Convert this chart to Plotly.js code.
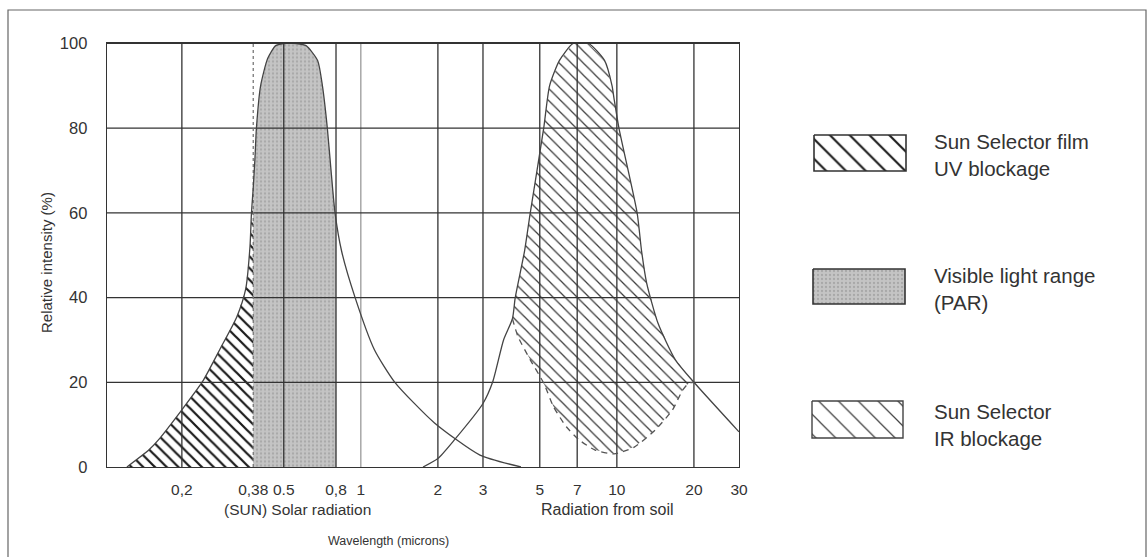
<!DOCTYPE html>
<html><head><meta charset="utf-8">
<script src="https://cdn.plot.ly/plotly-3.0.1.min.js"></script>
<style>html,body{margin:0;padding:0;background:#fff}</style>
</head><body>
<div id="chart" style="width:1148px;height:557px"></div>
<script>
// ---- tick values / labels ----
const xTickVals = [0.2, 0.38, 0.5, 0.8, 1, 2, 3, 5, 7, 10, 20, 30];
const xTickText = ['0,2', '0,38', '0.5', '0,8', '1', '2', '3', '5', '7', '10', '20', '30'];
const yTickVals = [0, 20, 40, 60, 80, 100];
const yGridVals = [20, 40, 60, 80];

// ---- solar radiation curve (wavelength in microns, relative intensity %) ----
const solarX = [0.122, 0.1485, 0.162, 0.2, 0.241, 0.281, 0.328, 0.355, 0.369, 0.374, 0.38, 0.386, 0.391, 0.406, 0.433, 0.465, 0.50, 0.56, 0.611, 0.678, 0.708, 0.740, 0.765, 0.793, 0.841, 0.95, 1.13, 1.358, 1.94, 2.92, 4.22];
const solarY = [0, 4, 6.4, 13.5, 20.2, 27.7, 35.5, 42, 52, 60, 66, 73, 80, 90, 96.5, 99.5, 100, 100, 99.5, 96, 90, 80, 70, 60, 51, 40, 27.7, 20, 10.4, 2.8, 0];

// ---- radiation from soil curve ----
const soilX = [1.75, 2.0, 2.32, 3.0, 3.27, 3.61, 3.91, 4.01, 4.36, 4.59, 5.18, 5.46, 5.97, 6.75, 7.75, 8.95, 9.58, 9.75, 10.19, 12.0, 12.49, 13.07, 14.47, 16.93, 20, 30];
const soilY = [0, 2, 6.4, 15, 20, 30, 35, 40, 51, 60, 80, 90, 96, 100, 100, 96, 90, 87, 80, 60, 51, 43.5, 34, 25.3, 20, 8.3];

// ---- lower (dashed) boundary of IR blockage ----
const irLowX = [3.91, 4.11, 4.59, 5.18, 5.66, 6.35, 7.12, 8.23, 9.75, 11.7, 14.1, 16.5, 18.1, 19.1, 20];
const irLowY = [35, 30.8, 25.3, 19.8, 14.2, 9.5, 6.4, 4.0, 3.1, 4.7, 8.7, 13.5, 18.2, 19.8, 20];

// ---- band limits ----
const uvEdge = 0.38;
const parEdge = 0.8;
const xMin = 0.102, xMax = 30, yMin = 0, yMax = 100;

// ---- legend labels ----
const legendLabels = ['Sun Selector film<br>UV blockage', 'Visible light range<br>(PAR)', 'Sun Selector<br>IR blockage'];

function yAt(xs, ys, x) {
  for (let i = 0; i < xs.length - 1; i++) {
    if (x >= xs[i] && x <= xs[i + 1]) {
      const t = (Math.log10(x) - Math.log10(xs[i])) / (Math.log10(xs[i + 1]) - Math.log10(xs[i]));
      return ys[i] + t * (ys[i + 1] - ys[i]);
    }
  }
  return 0;
}

// UV polygon
const uvX = [], uvY = [];
solarX.forEach((x, i) => { if (x < uvEdge) { uvX.push(x); uvY.push(solarY[i]); } });
uvX.push(uvEdge, uvEdge); uvY.push(yAt(solarX, solarY, uvEdge), 0);

// PAR polygon
const parX = [uvEdge, uvEdge], parY = [0, yAt(solarX, solarY, uvEdge)];
solarX.forEach((x, i) => { if (x > uvEdge && x < parEdge) { parX.push(x); parY.push(solarY[i]); } });
parX.push(parEdge, parEdge); parY.push(yAt(solarX, solarY, parEdge), 0);

// IR polygon
const irX = [], irY = [];
const irA = irLowX[0], irB = irLowX[irLowX.length - 1];
soilX.forEach((x, i) => { if (x >= irA && x <= irB) { irX.push(x); irY.push(soilY[i]); } });
for (let i = irLowX.length - 1; i >= 0; i--) { irX.push(irLowX[i]); irY.push(irLowY[i]); }

// grid lines
const vgX = [], vgY = [], vgLX = [], vgLY = [];
xTickVals.forEach(v => {
  if (v === uvEdge || v === xMax) return;
  if (v === 1) { vgLX.push(v, v, null); vgLY.push(yMin, yMax, null); }
  else { vgX.push(v, v, null); vgY.push(yMin, yMax, null); }
});
const hgX = [], hgY = [];
yGridVals.forEach(v => { hgX.push(xMin, xMax, null); hgY.push(v, v, null); });

const traces = [
  { x: parX, y: parY, mode: 'lines', fill: 'toself', line: { width: 0 },
    fillcolor: '#c0c0c0',
    fillpattern: { shape: '.', bgcolor: '#c4c4c4', fgcolor: '#a8a8a8', size: 4, solidity: 0.25 } },
  { x: uvX, y: uvY, mode: 'lines', fill: 'toself', line: { width: 0 },
    fillpattern: { shape: '\\', bgcolor: 'rgba(0,0,0,0)', fgcolor: '#1a1a1a', size: 8.3, solidity: 0.27 } },
  { x: irX, y: irY, mode: 'lines', fill: 'toself', line: { width: 0 },
    fillpattern: { shape: '\\', bgcolor: 'rgba(0,0,0,0)', fgcolor: '#3a3a3a', size: 8.5, solidity: 0.15 } },
  { x: vgX, y: vgY, mode: 'lines', line: { color: '#333', width: 1.3 } },
  { x: vgLX, y: vgLY, mode: 'lines', line: { color: '#9a9a9a', width: 1.3 } },
  { x: hgX, y: hgY, mode: 'lines', line: { color: '#333', width: 1.3 } },
  { x: [uvEdge, uvEdge], y: [yMin, yMax], mode: 'lines', line: { color: '#777', width: 1.3, dash: 'dot' } },
  { x: solarX, y: solarY, mode: 'lines', line: { color: '#444', width: 1.3, shape: 'spline', smoothing: 0.6 } },
  { x: soilX, y: soilY, mode: 'lines', line: { color: '#444', width: 1.3, shape: 'spline', smoothing: 0.6 } },
  { x: irLowX, y: irLowY, mode: 'lines', line: { color: '#555', width: 1.3, dash: '6px,5px', shape: 'spline', smoothing: 0.6 } }
].map(t => Object.assign({ showlegend: false, hoverinfo: 'skip' }, t));

// legend swatches on a helper axis pair
const box = (x0, x1, y0, y1) => ({ x: [x0, x1, x1, x0, x0], y: [y0, y0, y1, y1, y0] });
const sw = [box(814, 906, 135, 171), box(813, 905, 269, 304), box(812, 903, 401, 438)];
traces.push(
  Object.assign({ xaxis: 'x2', yaxis: 'y2', mode: 'lines', fill: 'toself', line: { color: '#333', width: 1.6 },
    fillpattern: { shape: '\\', bgcolor: 'white', fgcolor: '#1a1a1a', size: 14, solidity: 0.15 },
    showlegend: false, hoverinfo: 'skip' }, sw[0]),
  Object.assign({ xaxis: 'x2', yaxis: 'y2', mode: 'lines', fill: 'toself', line: { color: '#333', width: 1.6 },
    fillcolor: '#bdbdbd',
    fillpattern: { shape: '.', bgcolor: '#c4c4c4', fgcolor: '#a8a8a8', size: 4, solidity: 0.25 },
    showlegend: false, hoverinfo: 'skip' }, sw[1]),
  Object.assign({ xaxis: 'x2', yaxis: 'y2', mode: 'lines', fill: 'toself', line: { color: '#444', width: 1.4 },
    fillpattern: { shape: '\\', bgcolor: 'white', fgcolor: '#444', size: 14, solidity: 0.09 },
    showlegend: false, hoverinfo: 'skip' }, sw[2])
);

const W = 1148, H = 557;
const px = v => v / W, py = v => 1 - v / H;
const font = 'Arial, "Liberation Sans", Helvetica, sans-serif';

const annotations = [
  { text: '(SUN) Solar radiation', x: px(297), y: py(509), size: 15.5 },
  { text: 'Radiation from soil', x: px(607), y: py(509), size: 16 },
  { text: 'Wavelength (microns)', x: px(388), y: py(541), size: 12.5 },
].map(a => ({ xref: 'paper', yref: 'paper', x: a.x, y: a.y, text: a.text, showarrow: false,
  xanchor: 'center', yanchor: 'middle', font: { family: font, size: a.size, color: '#333' } }));
annotations.push({ xref: 'paper', yref: 'paper', x: px(47), y: py(262), text: 'Relative intensity (%)',
  textangle: -90, showarrow: false, xanchor: 'center', yanchor: 'middle', font: { family: font, size: 15, color: '#333' } });
const legY = [155, 289, 425];
legendLabels.forEach((t, i) => annotations.push({ xref: 'paper', yref: 'paper', x: px(932), y: py(legY[i]), text: t,
  showarrow: false, xanchor: 'left', yanchor: 'middle', align: 'left', font: { family: font, size: 20.5, color: '#333' } }));

const layout = {
  width: W, height: H,
  margin: { l: 0, r: 0, t: 0, b: 0 },
  paper_bgcolor: '#fff', plot_bgcolor: '#fff',
  hovermode: false, showlegend: false,
  font: { family: font, color: '#333' },
  xaxis: {
    type: 'log', range: [Math.log10(xMin), Math.log10(xMax)], domain: [px(107), px(739)],
    tickmode: 'array', tickvals: xTickVals, ticktext: xTickText,
    showgrid: false, zeroline: false, showline: true, mirror: true, linecolor: '#333', linewidth: 1.3,
    ticks: '', ticklabelstandoff: 8, tickfont: { size: 15.5, color: '#333', family: font }
  },
  yaxis: {
    range: [yMin, yMax], domain: [py(467), py(43.5)],
    tickmode: 'array', tickvals: yTickVals,
    showgrid: false, zeroline: false, showline: true, mirror: true, linecolor: '#333', linewidth: 1.3,
    ticks: '', ticklabelstandoff: 15, tickfont: { size: 16.5, color: '#333', family: font }
  },
  xaxis2: { domain: [px(800), px(920)], range: [800, 920], anchor: 'y2', visible: false, fixedrange: true },
  yaxis2: { domain: [py(445), py(125)], range: [445, 125], anchor: 'x2', visible: false, fixedrange: true },
  shapes: [
    { type: 'rect', xref: 'paper', yref: 'paper', x0: px(8), x1: px(1146), y0: -0.02, y1: py(10),
      line: { color: '#666', width: 1.2 }, layer: 'below' }
  ],
  annotations: annotations
};

Plotly.newPlot('chart', traces, layout, { staticPlot: true, displayModeBar: false });
</script>
</body></html>
